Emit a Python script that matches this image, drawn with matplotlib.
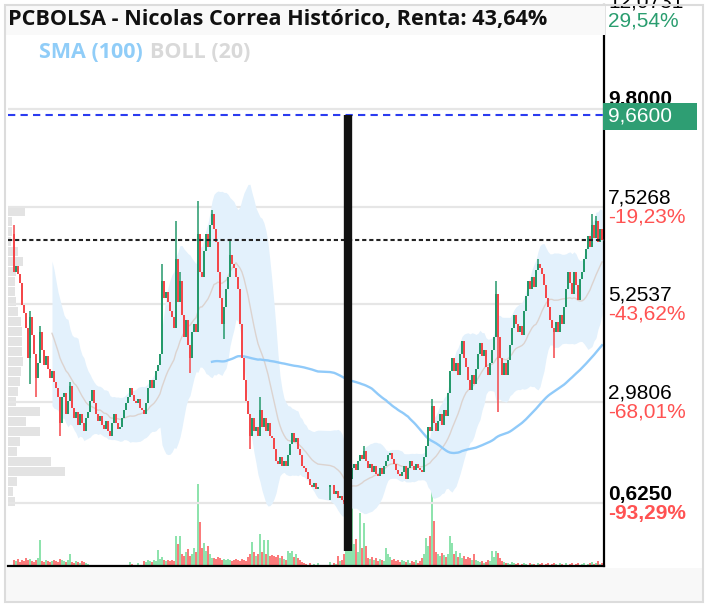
import numpy as np
import pandas as pd
import matplotlib
matplotlib.use("Agg")
import matplotlib.pyplot as plt
from matplotlib.patches import Rectangle

title = "PCBOLSA - Nicolas Correa Histórico, Renta: 43,64%"

# daily closes (nan = no trading that day)
closes = [
    6.0, 6.15, 5.95, 5.75, 5.25, 5.05, 4.7, 4.0, 4.95, 4.55,
    4.1, 3.55, 3.9, 4.6, 4.2, 3.85, 4.05, 3.75, 3.55, 3.7,
    3.45, 3.3, 3.1, 2.5, 3.1, 3.2, 2.7, 3.0, 3.35, 2.85,
    2.6, 2.75, 2.45, 2.7, 2.5, 2.3, 2.6, 2.75, 3.0, 3.25,
    2.95, 2.7, 2.55, 2.65, 2.45, 2.35, 2.55, 2.3, 2.2, 2.5,
    2.7, 2.5, 2.35, 2.4, 2.6, 2.8, 2.95, 3.1, 3.3, 3.15,
    3.0, 2.95, 3.05, 2.85, 2.8, 2.7, 2.95, 3.3, 3.5, 3.3,
    3.5, 3.7, 3.85, 4.1, 5.8, 5.4, 5.55, 5.3, 5.1, 4.95,
    4.7, 6.3, 5.3, 5.8, 5.0, 4.5, 4.9, 4.3, 4.0, 4.6,
    4.8, 4.6, 6.9, 6.0, 5.9, 6.5, 6.9, 6.6, 7.1, 7.35,
    7.0, 6.7, 6.0, 5.4, 4.8, 5.2, 5.6, 5.9, 6.4, 6.2,
    6.1, 5.9, 5.6, 4.8, 4.0, 3.5, 3.0, 2.7, 2.2, 2.6,
    2.3, 2.4, 2.2, 2.8, 2.4, 2.6, 2.3, 2.5, 2.2, 2.15,
    1.9, 1.6, 1.55, 1.7, 1.5, 1.6, 1.5, 1.75, 2.0, 2.25,
    2.05, 2.15, 1.9, 1.75, 1.5, 1.45, 1.35, 1.2, 1.05, 1.0,
    1.1, 0.95, 1.0, np.nan, np.nan, np.nan, np.nan, np.nan, 1.05, np.nan,
    0.85, 0.9, 0.75, 0.8, 0.7, 0.65, 0.7, 0.9, 1.2, 1.45,
    1.55, 1.4, 1.6, 1.75, 1.65, 1.85, 1.6, 1.45, 1.55, 1.35,
    1.5, 1.3, 1.25, 1.45, 1.3, 1.5, 1.6, 1.75, 1.8, 1.65,
    1.55, 1.4, 1.3, 1.25, 1.35, 1.5, 1.2, 1.45, 1.6, 1.5,
    1.4, 1.55, 1.45, 1.4, 1.35, 1.7, 1.95, 2.4, 2.3, 2.9,
    2.5, 2.3, 2.55, 2.7, 2.45, 2.8, 2.65, 3.2, 3.7, 4.0,
    3.7, 3.9, 3.6, 4.1, 4.4, 4.0, 3.8, 3.5, 3.25, 3.6,
    3.4, 3.75, 4.1, 4.35, 4.05, 4.2, 3.8, 3.6, 3.9, 4.2,
    4.5, 5.5, 4.5, 4.0, 3.6, 3.9, 3.6, 3.95, 4.3, 4.7,
    5.0, 4.8, 4.6, 4.75, 4.55, 5.1, 5.45, 5.8, 5.6, 5.9,
    5.65, 6.05, 6.2, 6.1, 5.95, 5.7, 5.4, 5.2, 4.9, 4.7,
    4.6, 4.85, 4.6, 5.0, 4.8, 5.2, 5.6, 6.0, 5.75, 5.5,
    6.0, 5.7, 5.35, 5.85, 6.0, 6.3, 6.55, 6.85, 6.6, 7.1,
    6.8, 7.2, 6.7, 7.0, 6.76,
]
first_open = 6.9

# long wicks visible in the chart
wick_high = {0: 7.1, 8: 5.1, 13: 4.75, 28: 3.45, 74: 6.2, 81: 7.2, 83: 6.0,
             92: 7.65, 99: 7.45, 108: 6.75, 123: 3.1, 175: 1.95, 209: 3.05,
             241: 5.8, 262: 6.3, 289: 7.35, 291: 7.3}
wick_low = {8: 3.4, 11: 3.1, 23: 2.2, 88: 3.65, 105: 4.45, 118: 1.9,
            158: 0.7, 165: 0.62, 242: 2.75, 270: 4.0}

volumes = [
    6, 5, 7, 4, 6, 5, 8, 6, 7, 5,
    4, 6, 8, 26, 5, 4, 6, 5, 4, 5,
    6, 5, 4, 7, 6, 5, 4, 6, 12, 4,
    3, 5, 4, 3, 5, 4, 3, 2, 0, 0,
    0, 1, 0, 0, 0, 0, 1, 0, 0, 0,
    0, 0, 0, 0, 0, 0, 0, 0, 4, 2,
    0, 0, 3, 0, 0, 5, 4, 6, 5, 4,
    6, 5, 16, 7, 9, 6, 5, 6, 5, 6,
    5, 30, 22, 30, 12, 10, 14, 17, 10, 12,
    18, 14, 82, 44, 18, 23, 15, 20, 12, 8,
    8, 7, 9, 8, 6, 7, 6, 7, 6, 5,
    6, 7, 6, 5, 7, 6, 5, 9, 12, 24,
    14, 10, 12, 32, 14, 26, 12, 26, 10, 11,
    10, 9, 11, 8, 10, 7, 6, 15, 13, 15,
    9, 12, 8, 6, 4, 3, 2, 0, 3, 0,
    2, 0, 3, 0, 0, 0, 0, 0, 4, 0,
    3, 2, 10, 5, 6, 12, 20, 25, 35, 67,
    22, 27, 14, 53, 18, 43, 20, 8, 7, 9,
    6, 8, 5, 7, 6, 5, 18, 12, 9, 6,
    7, 5, 6, 4, 6, 5, 4, 6, 3, 5,
    4, 6, 3, 5, 8, 12, 28, 20, 30, 76,
    45, 14, 12, 10, 13, 11, 9, 12, 30, 23,
    12, 15, 9, 13, 8, 10, 7, 9, 8, 6,
    12, 6, 5, 4, 5, 3, 4, 6, 5, 15,
    9, 15, 13, 8, 5, 4, 3, 3, 2, 4,
    3, 2, 3, 0, 2, 3, 2, 0, 3, 2,
    2, 0, 3, 2, 3, 0, 2, 3, 0, 2,
    3, 2, 0, 3, 2, 0, 3, 0, 2, 3,
    0, 2, 3, 0, 2, 3, 0, 2, 3, 4,
    2, 3, 5, 2, 3,
]

# volume profile on the left edge
profile_levels = [7.41, 7.18, 6.95, 6.71, 6.48, 6.25, 6.02, 5.78, 5.55, 5.32,
                  5.09, 4.85, 4.62, 4.39, 4.16, 3.92, 3.69, 3.46, 3.23, 2.99,
                  2.76, 2.53, 2.30, 2.06, 1.83, 1.60, 1.37, 1.13, 0.90, 0.67]
profile_volume = [17, 4, 4, 3, 10, 15, 8, 7, 7, 8,
                  10, 13, 14, 14, 14, 15, 13, 12, 10, 8,
                  32, 18, 32, 12, 9, 43, 57, 9, 5, 7]

grid_levels = [12.0731, 9.8, 7.5268, 5.2537, 2.9806, 0.625]
grid_labels = ["12,0731", "9,8000", "7,5268", "5,2537", "2,9806", "0,6250"]
# the % under 9,8000 sits behind the price box, so it is left blank
pct_labels = ["29,54%", "", "-19,23%", "-43,62%", "-68,01%", "-93,29%"]
target_price = 9.66
target_label = "9,6600"
marker_index = 167
marker_bottom = -0.49

GREEN = "#24996b"
RED = "#f4474a"
VGREEN = "#8ee3ad"
VRED = "#fb7b7b"

W, H = 708, 608
fig = plt.figure(figsize=(W / 100, H / 100), dpi=100)
fig.patch.set_facecolor("white")


def fx(px):
    return px / W


def fy(py):
    return 1 - py / H


ax = fig.add_axes([fx(8), fy(566), 596 / W, 561 / H])
vax = ax.twinx()
pax = ax.twiny()
vax.set_zorder(1)
pax.set_zorder(2)
ax.set_zorder(3)
for a in (ax, vax, pax):
    a.patch.set_visible(False)

n = len(closes)
idx = np.arange(n)
c = np.array(closes, dtype=float)
o = np.full(n, np.nan)
prev = first_open
for i in range(n):
    if not np.isnan(c[i]):
        o[i] = prev
        prev = c[i]
hi = np.fmax(o, c)
lo = np.fmin(o, c)
for k, v in wick_high.items():
    hi[k] = v
for k, v in wick_low.items():
    lo[k] = v
up = c >= o
ok = ~np.isnan(c)

# indicators
s = pd.Series(c).dropna()
mid = s.rolling(20).mean()
sd = s.rolling(20).std(ddof=0)
sma = s.rolling(100).mean()
xi = s.index.values
ax.fill_between(xi, mid - 2 * sd, mid + 2 * sd, color="#e3f1fc", lw=0, zorder=1)
ax.plot(xi, mid, color="#dcd3cf", lw=1.0, zorder=1.5)
ax.plot(xi, sma, color="#90caf9", lw=1.7, zorder=2)

# grid
for lv in grid_levels:
    ax.axhline(lv, color="#e6e6e6", lw=1.6, zorder=0.5)

# candles
col = np.where(up, GREEN, RED)
ax.vlines(idx[ok], lo[ok], hi[ok], colors=col[ok], lw=1.1, zorder=3)
body = np.maximum(np.abs(c - o), 0.05)
ax.bar(idx[ok], body[ok], bottom=np.fmin(o, c)[ok], width=1.0,
       color=col[ok], lw=0, zorder=3)

ax.axhline(c[ok][-1], color="#222222", lw=1.5, ls=(0, (2, 1.4)), zorder=4)
ax.axhline(target_price, color="#2b3cf0", lw=1.5, ls=(0, (3.5, 2.5)), zorder=4)
ax.vlines(marker_index, marker_bottom, target_price, color="#111111", lw=6, zorder=6)

ax.set_xlim(-3, n)
ax.set_ylim(-0.834, 12.22)
ax.set_xticks([])
ax.set_yticks([])
for side in ("top", "left"):
    ax.spines[side].set_visible(False)
for side in ("right", "bottom"):
    ax.spines[side].set_color("black")
    ax.spines[side].set_linewidth(1.6)

# volume
vcol = np.where(up | ~ok, VGREEN, VRED)
vax.bar(idx, volumes, width=1.0, color=vcol, lw=0)
vax.set_ylim(0, max(volumes) * 561 / 82)
vax.axis("off")

# volume profile
pax.barh(profile_levels, profile_volume, height=0.2, color="#e3e3e3", lw=0)
pax.set_xlim(0, max(profile_volume) * 596 / 57)
pax.axis("off")

# right-side labels
for lv, lab, pct in zip(grid_levels, grid_labels, pct_labels):
    bold = lab in ("9,8000", "0,6250")
    ax.annotate(lab, xy=(1, lv), xycoords=("axes fraction", "data"),
                xytext=(3, 2.6), textcoords="offset points", va="baseline",
                ha="left", fontsize=15, family="Liberation Sans",
                fontweight="bold" if bold else "normal", color="black",
                annotation_clip=False)
    if pct:
        ax.annotate(pct, xy=(1, lv), xycoords=("axes fraction", "data"),
                    xytext=(3, -11.2), textcoords="offset points", va="baseline",
                    ha="left", fontsize=15, family="Liberation Sans",
                    fontweight="bold" if pct == "-93,29%" else "normal",
                    color="#2a9d6f" if not pct.startswith("-") else "#ff5252",
                    annotation_clip=False)

# frame, title band, bottom band
fig.add_artist(Rectangle((fx(5), fy(35)), (605 - 5) / W, 30 / H, transform=fig.transFigure,
                         facecolor="#f9f9f9", edgecolor="none", zorder=10))
fig.add_artist(Rectangle((fx(5), fy(602)), (703 - 5) / W, 34 / H, transform=fig.transFigure,
                         facecolor="#f8f8f8", edgecolor="none", zorder=0.5))
fig.add_artist(Rectangle((fx(5), fy(602)), (703 - 5) / W, 597 / H, transform=fig.transFigure,
                         facecolor="none", edgecolor="#dcdcdc", lw=1.5, zorder=11))
fig.add_artist(Rectangle((fx(603), fy(130)), 94 / W, 27 / H, transform=fig.transFigure,
                         facecolor="#2e9e73", edgecolor="none", zorder=12))
fig.text(fx(608), fy(116.5), target_label, color="white", fontsize=15,
         family="Liberation Sans", va="center", ha="left", zorder=13)

fig.text(fx(8), fy(20), title, fontsize=15.6, fontweight="bold", family="Open Sans",
         color="#111111", va="center", ha="left", zorder=12)
fig.text(fx(39), fy(52), "SMA (100)", fontsize=15.5, fontweight="bold", family="Open Sans",
         color="#90cdf8", va="center", ha="left", zorder=12)
fig.text(fx(150), fy(52), "BOLL (20)", fontsize=15.5, fontweight="bold", family="Open Sans",
         color="#d9d9d9", va="center", ha="left", zorder=12)

fig.savefig("out.png", dpi=100)
